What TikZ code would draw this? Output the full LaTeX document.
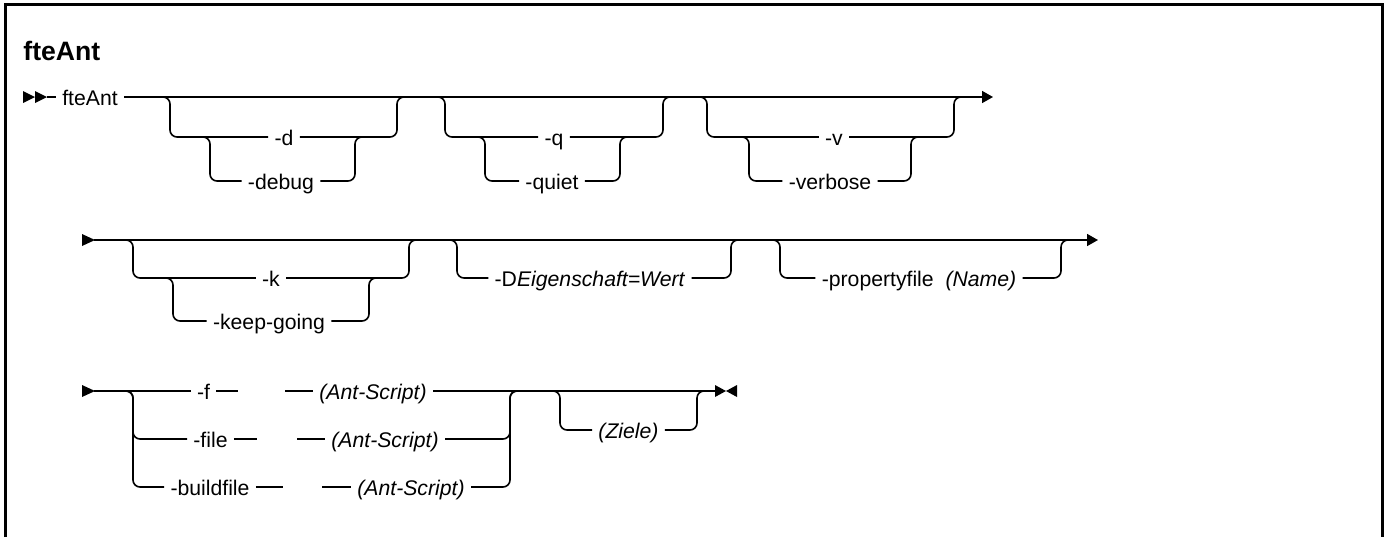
\documentclass[tikz,border=0pt]{standalone}
\usepackage{fontspec}
\setmainfont{Liberation Sans}
\usepackage{tikz}
\usetikzlibrary{calc, arrows.meta}
\usetikzlibrary{positioning}

\newcommand{\railfont}{\fontsize{10.6}{12}\selectfont}
\newcommand{\titlefont}{\fontsize{13.3}{16}\selectfont\bfseries}

\tikzset{
    rail/.style={line width=0.8pt, rounded corners=3.5pt},
    lbl/.style={inner sep=3pt, text height=9pt, text depth=1pt, font=\railfont},
    railtip/.style={-{Triangle[length=5.5pt,width=6pt]}},
}

\NewDocumentCommand{\railbranch}{%
    O{}     % drawing options
    mmm     % left junction, label node, right junction
    }{%
    \draw[rail,#1] ($(#2)+(-7,0)$) -- (#2) |- (#3);   % down to the label
    \draw[rail,#1] (#3) -| (#4) -- ($(#4)+(7,0)$);    % back up to the rail
}

\begin{document}
\begin{tikzpicture}[x=0.5pt, y=-0.5pt]
    \useasboundingbox (0,0) rectangle (1385,537);
    \draw[line width=1.5pt] (5,537) -- (5,4.5) -- (1382,4.5) -- (1382,537);
    \node[anchor=base west, inner sep=0, font=\titlefont] (title) at (23,60) {fteAnt};

    % first row
    \fill (23,91) -- (35,97) -- (23,103) -- cycle;
    \fill (35,91) -- (47,97) -- (35,103) -- cycle;
    \coordinate (s1) at (47,97);
    \coordinate (e1) at (993,97);
    \node[lbl] (fte) at (90,97) {fteAnt};
    \draw[rail] (s1) -- (fte);
    \draw[rail,railtip] (fte) -- (e1);

    \coordinate (dL) at (170,97);
    \coordinate (dR) at (397,97);
    \coordinate (dbL) at (210,137);
    \coordinate (dbR) at (355,137);
    \node[lbl] (d) at (284,137) {-d};
    \node[lbl] (debug) at (281,181) {-debug};
    \railbranch{dL}{d}{dR}
    \railbranch{dbL}{debug}{dbR}

    \coordinate (qL) at (445,97);
    \coordinate (qR) at (663,97);
    \coordinate (qtL) at (485,137);
    \coordinate (qtR) at (620,137);
    \node[lbl] (q) at (554,137) {-q};
    \node[lbl] (quiet) at (552,181) {-quiet};
    \railbranch{qL}{q}{qR}
    \railbranch{qtL}{quiet}{qtR}

    \coordinate (vL) at (707,97);
    \coordinate (vR) at (954,97);
    \coordinate (vbL) at (749,137);
    \coordinate (vbR) at (911,137);
    \node[lbl] (v) at (834,137) {-v};
    \node[lbl] (verbose) at (830,181) {-verbose};
    \railbranch{vL}{v}{vR}
    \railbranch{vbL}{verbose}{vbR}

    % second row
    \fill (82,234) -- (95,240) -- (82,246) -- cycle;
    \coordinate (s2) at (94,240);
    \coordinate (e2) at (1098,240);
    \draw[rail,railtip] (s2) -- (e2);

    \coordinate (kL) at (133,240);
    \coordinate (kR) at (409,240);
    \coordinate (kgL) at (173,278);
    \coordinate (kgR) at (369,278);
    \node[lbl] (k) at (271,278) {-k};
    \node[lbl] (keep) at (269,321) {-keep-going};
    \railbranch{kL}{k}{kR}
    \railbranch{kgL}{keep}{kgR}

    \coordinate (DL) at (457,240);
    \coordinate (DR) at (731,240);
    \node[lbl] (prop) at (590,278) {-D\textit{Eigenschaft=Wert}};
    \railbranch{DL}{prop}{DR}

    \coordinate (pL) at (780,240);
    \coordinate (pR) at (1061,240);
    \node[lbl] (pfile) at (919,278) {-propertyfile~~\textit{(Name)}};
    \railbranch{pL}{pfile}{pR}

    % third row
    \fill (82,385) -- (95,391) -- (82,397) -- cycle;
    \coordinate (s3) at (94,391);
    \coordinate (e3) at (715,391);
    \coordinate (fL) at (133,391);
    \coordinate (fR) at (510,391);

    \node[lbl] (f) at (203.5,391) {-f};
    \coordinate (f1) at (238,391);
    \coordinate (f2) at (285,391);
    \node[lbl] (fArg) at (373,391) {\textit{(Ant-Script)}};
    \draw[rail] (s3) -- (f);
    \draw[rail] (f) -- (f1);
    \draw[rail] (f2) -- (fArg);
    \draw[rail] (fArg) -- (e3);

    \node[lbl] (file) at (210.5,439) {-file};
    \coordinate (fi1) at (257,439);
    \coordinate (fi2) at (297,439);
    \node[lbl] (fileArg) at (385,439) {\textit{(Ant-Script)}};
    \draw[rail] (file) -- (fi1);
    \draw[rail] (fi2) -- (fileArg);

    \node[lbl] (build) at (210,487) {-buildfile};
    \coordinate (b1) at (283,487);
    \coordinate (b2) at (322,487);
    \node[lbl] (buildArg) at (411,487) {\textit{(Ant-Script)}};
    \draw[rail] (build) -- (b1);
    \draw[rail] (b2) -- (buildArg);

    \draw[rail] ($(fL)+(-7,0)$) -- (fL) |- (file);
    \draw[rail] ($(fL)+(-7,0)$) -- (fL) |- (build);
    \draw[rail] (fileArg) -| (fR) -- ($(fR)+(7,0)$);
    \draw[rail] (buildArg) -| (fR) -- ($(fR)+(7,0)$);

    \coordinate (zL) at (560,391);
    \coordinate (zR) at (697,391);
    \node[lbl] (ziele) at (628.5,430) {\textit{(Ziele)}};
    \railbranch{zL}{ziele}{zR}

    \fill (715,385) -- (726,391) -- (715,397) -- cycle;
    \fill (737,385) -- (726,391) -- (737,397) -- cycle;
\end{tikzpicture}
\end{document}
